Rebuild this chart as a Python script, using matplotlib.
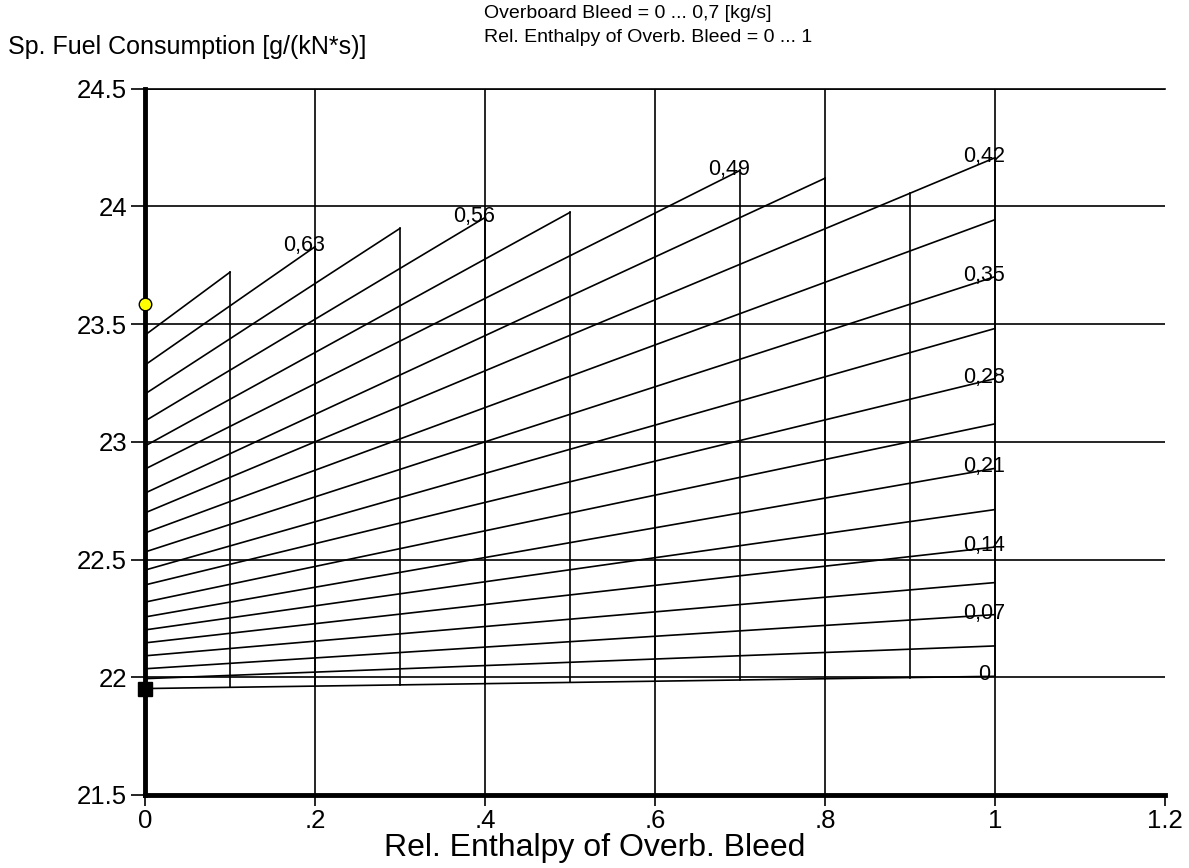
import numpy as np
import matplotlib
matplotlib.use('Agg')
from matplotlib import pyplot as plt

plt.rcParams['font.family'] = ['Liberation Sans', 'DejaVu Sans']

# overboard bleed [kg/s] for each line of the carpet
bleed = [0, 0.035, 0.07, 0.105, 0.14, 0.175, 0.21, 0.245, 0.28, 0.315,
         0.35, 0.385, 0.42, 0.455, 0.49, 0.525, 0.56, 0.595, 0.63, 0.665]
# SFC at rel. enthalpy = 0
sfc_start = [21.952, 21.994, 22.036, 22.091, 22.146, 22.201, 22.256, 22.319, 22.392, 22.455,
             22.532, 22.613, 22.698, 22.782, 22.884, 22.982, 23.088, 23.203, 23.326, 23.453]
# last rel. enthalpy reached by each line and the SFC there
enth_end = [1, 1, 1, 1, 1, 1, 1, 1, 1, 1,
            1, 1, 1, 0.8, 0.7, 0.5, 0.4, 0.3, 0.2, 0.1]
sfc_end = [22.004, 22.133, 22.266, 22.402, 22.553, 22.712, 22.887, 23.076, 23.268, 23.481,
           23.701, 23.943, 24.206, 24.119, 24.152, 23.974, 23.952, 23.906, 23.828, 23.72]
line_labels = ['0', '', '0,07', '', '0,14', '', '0,21', '', '0,28', '',
               '0,35', '', '0,42', '', '0,49', '', '0,56', '', '0,63', '']

# constant-enthalpy lines of the carpet
enth_steps = [0.1, 0.2, 0.3, 0.4, 0.5, 0.6, 0.7, 0.8, 0.9, 1.0]

# design point and reference point
design_sfc = 23.585
ref_sfc = 21.952

x_ticks = [0, 0.2, 0.4, 0.6, 0.8, 1.0, 1.2]
x_tick_labels = ['0', '.2', '.4', '.6', '.8', '1', '1.2']
y_ticks = [21.5, 22, 22.5, 23, 23.5, 24, 24.5]
y_tick_labels = ['21.5', '22', '22.5', '23', '23.5', '24', '24.5']

fig = plt.figure(figsize=(11.89, 8.68), dpi=100)
ax = fig.add_axes([145 / 1189, 73 / 868, 1020 / 1189, 706.5 / 868])
ax.set_xlim(0, 1.2)
ax.set_ylim(21.5, 24.5)

# grid (no line at the right edge)
for gx in x_ticks[1:-1]:
    ax.axvline(gx, color='black', lw=1.2, zorder=1)
for gy in y_ticks[1:]:
    ax.axhline(gy, color='black', lw=1.2, zorder=1)

# constant-bleed lines
for i in range(len(bleed)):
    ax.plot([0, enth_end[i]], [sfc_start[i], sfc_end[i]], color='black', lw=1.2, zorder=2)
    if line_labels[i]:
        ax.annotate(line_labels[i], xy=(enth_end[i], sfc_end[i]), xytext=(-8, 1),
                    textcoords='offset points', ha='center', va='center', fontsize=15.5,
                    zorder=3)

# constant-enthalpy lines
start = np.array(sfc_start)
end = np.array(sfc_end)
ends = np.array(enth_end)
for ex in enth_steps:
    y_at = start + (end - start) * ex / ends
    ok = ends >= ex - 1e-9
    ax.plot([ex, ex], [y_at[0], y_at[ok].max()], color='black', lw=1.2, zorder=2)

ax.plot(0, design_sfc, 'o', ms=9, mfc='#ffff00', mec='black', mew=1, clip_on=False, zorder=5)
ax.plot(0, ref_sfc, 's', ms=9.5, color='black', clip_on=False, zorder=5)

ax.set_xticks(x_ticks, x_tick_labels)
ax.set_yticks(y_ticks, y_tick_labels)
ax.tick_params(axis='x', direction='out', length=8, width=1.2, labelsize=18.5, pad=2)
ax.tick_params(axis='y', direction='out', length=10, width=1.2, labelsize=18.5, pad=3)

ax.spines['left'].set_linewidth(3.5)
ax.spines['bottom'].set_linewidth(3.5)
ax.spines['top'].set_linewidth(1.2)
ax.spines['right'].set_visible(False)

fig.text(8 / 1189, 1 - 47 / 868, 'Sp. Fuel Consumption [g/(kN*s)]', fontsize=18,
         ha='left', va='center')
fig.text(484 / 1189, 1 - 14 / 868, 'Overboard Bleed = 0 ... 0,7 [kg/s]', fontsize=14,
         ha='left', va='center')
fig.text(484 / 1189, 1 - 38 / 868, 'Rel. Enthalpy of Overb. Bleed = 0 ... 1', fontsize=14,
         ha='left', va='center')
fig.text(0.5, 1 - 848 / 868, 'Rel. Enthalpy of Overb. Bleed', fontsize=23,
         ha='center', va='center')

plt.savefig('out.png', dpi=100)
